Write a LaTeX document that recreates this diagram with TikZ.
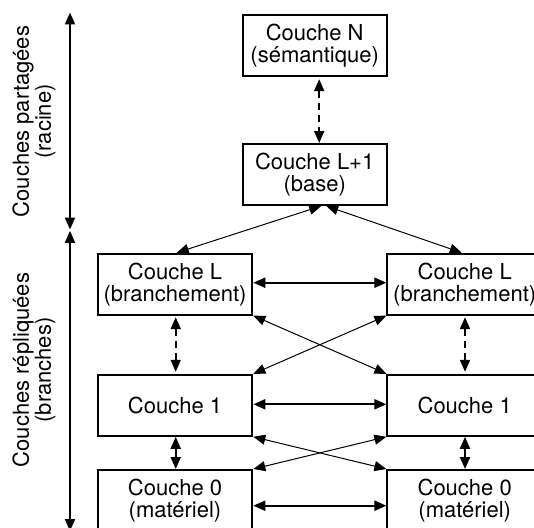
\documentclass[tikz,border=0pt]{standalone}
\usepackage{fontspec}
\setmainfont{TeX Gyre Heros}
\usetikzlibrary{arrows.meta}
\begin{document}
\begin{tikzpicture}[x=1pt,y=-1pt,
  >={Triangle[length=12pt,width=10pt]},
  txt/.style={font=\fontsize{22}{22}\selectfont, align=center},
  box/.style={txt, draw, line width=2pt, inner sep=0pt, minimum height=61pt},
  narrowbox/.style={box, minimum width=144pt},
  widebox/.style={box, minimum width=154.6pt},
  thick arrow/.style={line width=2pt, <->},
  thin arrow/.style={line width=1pt, <->},
  dash arrow/.style={line width=2pt, dash pattern=on 7pt off 5pt, <->},
]
\useasboundingbox (0,0) rectangle (534,527);
\clip (0,0) rectangle (534,527);

% boxes
\node[narrowbox] (N)  at (314.7,45.2)  {Couche N\\(sémantique)};
\node[narrowbox] (Lp) at (314.7,174.5) {Couche L+1\\(base)};
\node[widebox] (LL) at (175,284.2)   {Couche L\\(branchement)};
\node[widebox] (RL) at (464.7,284.2) {Couche L\\(branchement)};
\node[widebox] (L1) at (175,405.3)   {Couche 1};
\node[widebox] (R1) at (464.7,405.3) {Couche 1};
\node[widebox] (L0) at (175,500.5)   {Couche 0\\(matériel)};
\node[widebox] (R0) at (464.7,500.5) {Couche 0\\(matériel)};

% side labels
\node[txt, rotate=90] (lab1) at (34,121.5) {Couches partagées\\(racine)};
\node[txt, rotate=90] (lab2) at (34,370)   {Couches répliquées\\(branches)};

% side arrows
\coordinate (a1) at (70,12.5);
\coordinate (a2) at (70,229.5);
\coordinate (a3) at (70,230.8);
\coordinate (a4) at (70,531);
\draw[thick arrow] (a1) -- (a2);
\draw[thick arrow] (a3) -- (a4);

% N <-> L+1
\draw[dash arrow, shorten <=2.5pt] ([xshift=4.5pt]N.south) -- ([xshift=4.5pt]Lp.north);

% L+1 -> branches
\draw[thin arrow] ([xshift=6.5pt]Lp.south) -- ([xshift=1.7pt]LL.north);
\draw[thin arrow] ([xshift=11.5pt]Lp.south) -- ([xshift=-3pt]RL.north);

% horizontal arrows
\draw[thick arrow] ([yshift=1.5pt]LL.east) -- ([yshift=1.5pt]RL.west);
\draw[thick arrow] ([yshift=1pt]L1.east) -- ([yshift=1pt]R1.west);
\draw[thick arrow] ([yshift=-5.2pt]L0.east) -- ([yshift=-5.2pt]R0.west);

% vertical within branches
\draw[dash arrow, shorten <=1.5pt, shorten >=2pt] ([xshift=0.7pt]LL.south) -- ([xshift=0.7pt]L1.north);
\draw[dash arrow, shorten <=1.5pt, shorten >=2pt] ([xshift=0.3pt]RL.south) -- ([xshift=0.3pt]R1.north);
\draw[thick arrow] ([xshift=0.7pt]L1.south) -- ([xshift=0.7pt]L0.north);
\draw[thick arrow] ([xshift=0.3pt]R1.south) -- ([xshift=0.3pt]R0.north);

% crossing arrows
\draw[thin arrow] (LL.south east) -- (R1.north west);
\draw[thin arrow] (RL.south west) -- (L1.north east);
\draw[thin arrow] (L1.south east) -- (R0.north west);
\draw[thin arrow] (R1.south west) -- (L0.north east);
\end{tikzpicture}
\end{document}
